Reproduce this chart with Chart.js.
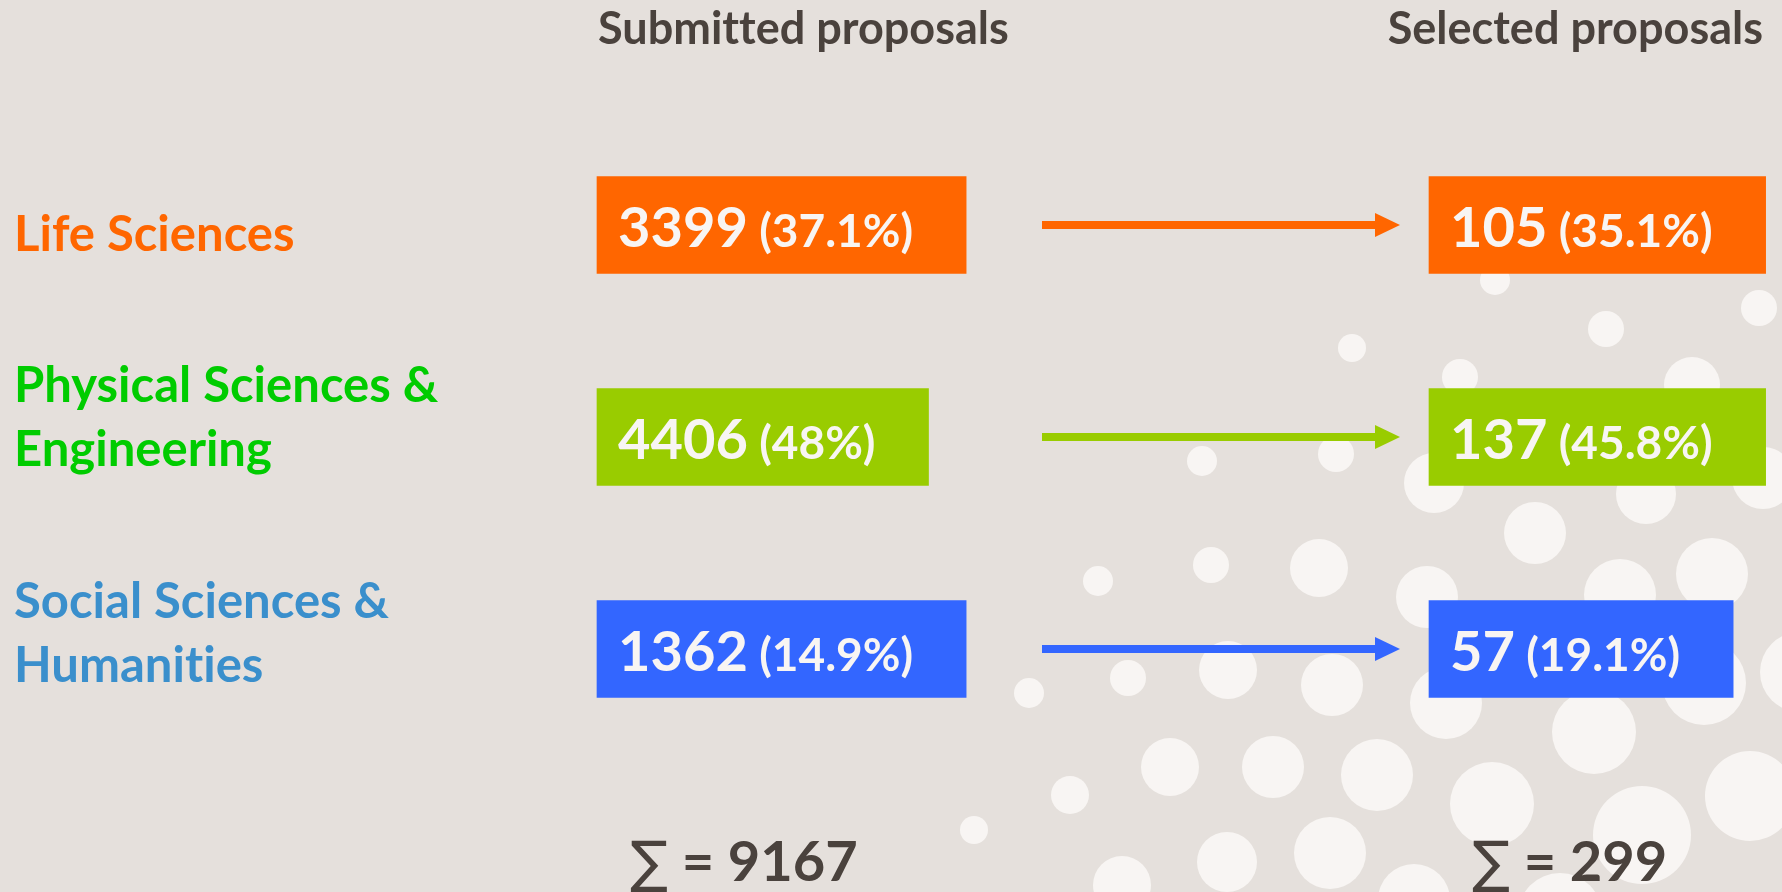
<!DOCTYPE html>
<html>
<head>
<meta charset="utf-8">
<title>Submitted vs selected proposals</title>
<script src="https://cdn.jsdelivr.net/npm/chart.js"></script>
<style>
  html, body { margin: 0; padding: 0; background: #E5E0DC; overflow: hidden; }
</style>
</head>
<body>
<canvas id="flowChart" width="1782" height="892"></canvas>
<script>
// --- data ---
const categories = ['Life Sciences', ['Physical Sciences &', 'Engineering'], ['Social Sciences &', 'Humanities']];
const submitted = [3399, 4406, 1362];
const submittedShare = [37.1, 48, 14.9];
const selected = [105, 137, 57];
const selectedShare = [35.1, 45.8, 19.1];
const headers = ['Submitted proposals', 'Selected proposals'];

// decorative dots in the background (page px)
const dotX = [1495, 1759, 1606, 1352, 1460, 1692, 1202, 1336, 1434, 1646, 1763, 1535, 1712, 1319, 1211, 1098, 1427, 1620, 1228, 1128,
              1029, 1332, 1446, 1704, 1800, 1594, 1170, 1070, 1273, 1377, 1492, 1642, 1750, 974, 1227, 1330, 1122, 1414, 1560];
const dotY = [280, 308, 329, 348, 377, 385, 461, 454, 483, 494, 478, 533, 574, 568, 565, 581, 597, 595, 670, 678,
              693, 685, 703, 683, 672, 732, 767, 795, 767, 775, 804, 835, 796, 830, 862, 853, 885, 900, 915];
const dotR = [15, 18, 18, 14, 18, 28, 15, 18, 30, 30, 31, 31, 36, 29, 18, 15, 31, 36, 29, 18,
              15, 31, 36, 42, 40, 42, 29, 19, 31, 36, 42, 49, 45, 14, 30, 36, 29, 36, 42];

// --- styling / layout ---
const boxColors = ['#FF6600', '#99CC00', '#3366FF'];
const labelColors = ['#FF6600', '#00CC00', '#3A8FCC'];
const ink = '#4A423D';
const paper = '#F8F5F3';
const FONT = 'Lato, "Noto Sans", sans-serif';
const col = { sub: 597, sel: 1429, arrowFrom: 1042, arrowTo: 1400, padL: 21, padR: 53, subHead: 598, selHeadRight: 1763, subSum: 630, selSum: 1472 };
const row = { first: 225, step: 212 };       // page px of first row centre, row pitch
const size = { num: 56, pct: 46, head: 45, label: 49, sum: 56 };
const labelRows = [0.05, 0.91, 1.93];        // where the left labels sit on the row axis

// no "tt"/"ti" ligatures, the original font has none
function plainText(ctx) {
  ctx.textRendering = 'optimizeSpeed';
  ctx.letterSpacing = '0.01px';
}

const measureCtx = document.createElement('canvas').getContext('2d');
plainText(measureCtx);
function textW(str, px) {
  measureCtx.font = `bold ${px}px ${FONT}`;
  return measureCtx.measureText(str).width;
}
// box fits its text
function boxSpan(left, n, pct) {
  return [left, left + col.padL + textW(String(n), size.num) + textW(` (${pct}%)`, size.pct) + col.padR];
}

const total = arr => arr.reduce((a, b) => a + b, 0);

const flowPlugin = {
  id: 'flow',
  // x and y2 run in page pixels, y in rows
  afterLayout(chart) {
    const a = chart.chartArea, x = chart.scales.x, y = chart.scales.y, pg = chart.scales.y2;
    x.min = a.left; x.max = a.right; x.configure();
    pg.min = a.top; pg.max = a.bottom; pg.configure();
    y.min = (a.top - row.first) / row.step; y.max = (a.bottom - row.first) / row.step; y.configure();
  },
  beforeDraw(chart) {
    plainText(chart.ctx);
  },
  afterDatasetsDraw(chart) {
    const { ctx } = chart;
    const x = chart.scales.x, y = chart.scales.y, pg = chart.scales.y2;
    ctx.save();

    // arrows
    categories.forEach((c, i) => {
      const yc = y.getPixelForValue(i);
      const x0 = x.getPixelForValue(col.arrowFrom), x1 = x.getPixelForValue(col.arrowTo);
      ctx.strokeStyle = boxColors[i];
      ctx.fillStyle = boxColors[i];
      ctx.lineWidth = 8;
      ctx.beginPath();
      ctx.moveTo(x0, yc);
      ctx.lineTo(x1 - 22, yc);
      ctx.stroke();
      ctx.beginPath();
      ctx.moveTo(x1, yc);
      ctx.lineTo(x1 - 25, yc - 12);
      ctx.lineTo(x1 - 25, yc + 12);
      ctx.closePath();
      ctx.fill();
    });

    // numbers inside boxes
    const writeBox = (left, n, pct, i) => {
      const yb = y.getPixelForValue(i) + 22;
      let px = x.getPixelForValue(left) + col.padL;
      ctx.fillStyle = paper;
      ctx.textAlign = 'left';
      ctx.textBaseline = 'alphabetic';
      ctx.font = `bold ${size.num}px ${FONT}`;
      ctx.fillText(String(n), px, yb);
      px += ctx.measureText(String(n)).width;
      ctx.font = `bold ${size.pct}px ${FONT}`;
      ctx.fillText(` (${pct}%)`, px, yb);
    };
    submitted.forEach((v, i) => writeBox(col.sub, v, submittedShare[i], i));
    selected.forEach((v, i) => writeBox(col.sel, v, selectedShare[i], i));

    // column headers
    ctx.fillStyle = ink;
    ctx.textBaseline = 'alphabetic';
    ctx.font = `bold ${size.head}px ${FONT}`;
    ctx.textAlign = 'left';
    ctx.fillText(headers[0], x.getPixelForValue(col.subHead), pg.getPixelForValue(44));
    ctx.textAlign = 'right';
    ctx.fillText(headers[1], x.getPixelForValue(col.selHeadRight), pg.getPixelForValue(44));

    // sums
    const writeSum = (left, sum) => {
      const base = pg.getPixelForValue(881);
      let px = x.getPixelForValue(left);
      ctx.textAlign = 'left';
      ctx.font = `56px "DejaVu Sans", sans-serif`;
      ctx.fillText('\u2211', px, base);
      px += ctx.measureText('\u2211').width + 14;
      ctx.font = `bold ${size.sum}px ${FONT}`;
      ctx.fillText('= ' + sum, px, base);
    };
    writeSum(col.subSum, total(submitted));
    writeSum(col.selSum, total(selected));
    ctx.restore();
  }
};

function draw() {
  new Chart(document.getElementById('flowChart'), {
    type: 'bar',
    data: {
      datasets: [{
        type: 'bubble',
        label: 'dots',
        indexAxis: 'x',
        data: dotX.map((v, i) => ({ x: v, y: dotY[i], r: dotR[i] })),
        backgroundColor: paper,
        borderWidth: 0,
        hoverRadius: 0,
        xAxisID: 'x',
        yAxisID: 'y2',
        clip: false,
        order: 3
      }, {
        label: headers[0],
        indexAxis: 'y',
        data: submitted.map((v, i) => ({ y: i, x: boxSpan(col.sub, v, submittedShare[i]) })),
        backgroundColor: boxColors,
        barThickness: 97,
        grouped: false,
        borderWidth: 0,
        clip: false,
        xAxisID: 'x',
        yAxisID: 'y',
        order: 1
      }, {
        label: headers[1],
        indexAxis: 'y',
        data: selected.map((v, i) => ({ y: i, x: boxSpan(col.sel, v, selectedShare[i]) })),
        backgroundColor: boxColors,
        barThickness: 97,
        grouped: false,
        borderWidth: 0,
        clip: false,
        xAxisID: 'x',
        yAxisID: 'y',
        order: 1
      }]
    },
    options: {
      responsive: false,
      animation: false,
      layout: { autoPadding: false, padding: { left: 14, top: 0, bottom: 0, right: 0 } },
      plugins: { legend: { display: false }, tooltip: { enabled: false } },
      scales: {
        x: { type: 'linear', min: 560, max: 1782, display: false, offset: false },
        y: {
          type: 'linear',
          position: 'left',
          reverse: true,
          min: -1.061,
          max: 3.147,
          offset: false,
          grid: { display: false },
          border: { display: false },
          afterBuildTicks: s => { s.ticks = labelRows.map(v => ({ value: v })); },
          // fixed label column, and no extra top/bottom room for the labels
          afterFit: s => { s.width = 546; s.paddingTop = 0; s.paddingBottom = 0; },
          ticks: {
            crossAlign: 'far',
            padding: 0,
            autoSkip: false,
            callback: (v, i) => categories[i],
            color: c => labelColors[c.index],
            font: { family: FONT, size: size.label, weight: 'bold', lineHeight: 1.3 }
          }
        },
        y2: { type: 'linear', axis: 'y', position: 'right', display: false, min: 0, max: 892, reverse: true }
      }
    },
    plugins: [flowPlugin]
  });
}

Promise.all([
  document.fonts.load(`bold 54px Lato`),
  document.fonts.load(`bold 40px Lato`)
]).then(draw, draw);
</script>
</body>
</html>
